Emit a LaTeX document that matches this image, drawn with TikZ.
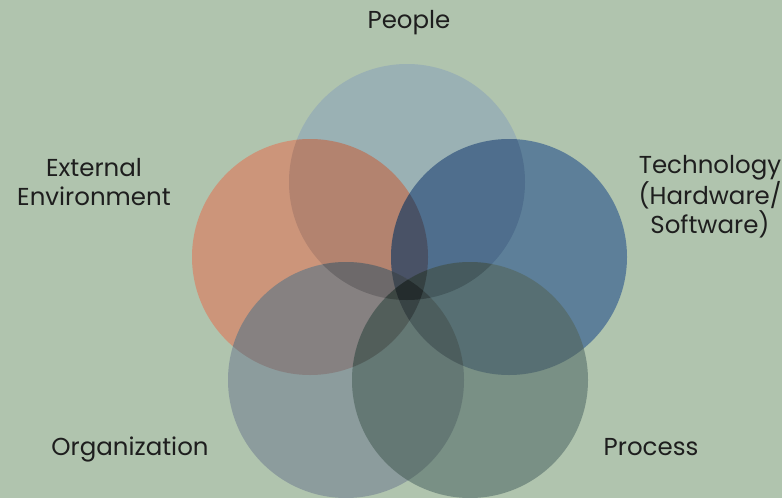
\documentclass[tikz,border=0pt]{standalone}
\usepackage{fontspec}
\setmainfont{Poppins}
\definecolor{fundo}{RGB}{176,196,174}
\definecolor{cpessoas}{RGB}{145,169,183}
\definecolor{cambiente}{RGB}{216,130,100}
\definecolor{ctecnologia}{RGB}{59,99,145}
\definecolor{corganizacao}{RGB}{125,140,151}
\definecolor{cprocesso}{RGB}{98,122,116}
\definecolor{texto}{RGB}{30,30,30}

\begin{document}
\begin{tikzpicture}[x=1pt,y=-1pt,
    bolha/.style={circle, minimum size=236pt, inner sep=0pt, outer sep=0pt, fill opacity=0.7},
    sombra/.style={fill=black, fill opacity=0.09},
    rotulo/.style={text=texto, align=center, font=\fontsize{24.5}{29.5}\selectfont}]
            %fundo e margens
            \path[use as bounding box, fill=fundo] (0,0) rectangle (782,498);

            %os cinco circulos
            \node[bolha, fill=cpessoas] (pessoas) at (407,182) {};
            \node[bolha, fill=cambiente] (ambiente) at (310,257) {};
            \node[bolha, fill=ctecnologia] (tecnologia) at (509,257) {};
            \node[bolha, fill=corganizacao] (organizacao) at (346,380) {};
            \node[bolha, fill=cprocesso] (processo) at (470,380) {};

            %sobreposicoes mais escuras
            \foreach \a/\b in {pessoas/ambiente, pessoas/tecnologia, pessoas/organizacao,
                pessoas/processo, ambiente/tecnologia, ambiente/organizacao, ambiente/processo,
                tecnologia/organizacao, tecnologia/processo, organizacao/processo}{
                \begin{scope}
                    \clip (\a.center) circle[radius=118];
                    \fill[sombra] (\b.center) circle[radius=118];
                \end{scope}
            }

            %legendas
            \node[rotulo, anchor=base] (lpessoas) at (409,28) {People};
            \node[rotulo] (lambiente) at (94,182) {External\\Environment};
            \node[rotulo] (ltecnologia) at (710,197) {Technology\\(Hardware/\\Software)};
            \node[rotulo, anchor=base] (lorganizacao) at (130,455) {Organization};
            \node[rotulo, anchor=base] (lprocesso) at (651,455) {Process};
        \end{tikzpicture}
\end{document}
